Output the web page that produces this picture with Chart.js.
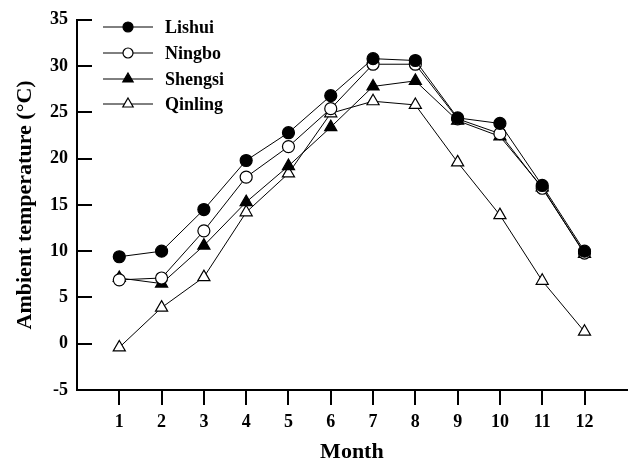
<!DOCTYPE html>
<html>
<head>
<meta charset="utf-8">
<script src="https://cdn.jsdelivr.net/npm/chart.js@4"></script>
<style>
  html, body { margin: 0; padding: 0; background: #fff; }
  #wrap { width: 635px; height: 464px; }
</style>
</head>
<body>
<div id="wrap"><canvas id="c" width="635" height="464"></canvas></div>
<script>
const months = [1, 2, 3, 4, 5, 6, 7, 8, 9, 10, 11, 12];
const lishui  = [9.4, 10.0, 14.5, 19.8, 22.8, 26.8, 30.8, 30.6, 24.4, 23.8, 17.1, 10.0];
const ningbo  = [6.9, 7.1, 12.2, 18.0, 21.3, 25.4, 30.2, 30.2, 24.3, 22.7, 16.8, 9.8];
const shengsi = [7.1, 6.5, 10.6, 15.3, 19.2, 23.4, 27.8, 28.4, 24.1, 22.4, 16.9, 9.7];
const qinling = [-0.4, 3.9, 7.2, 14.2, 18.4, 24.9, 26.2, 25.8, 19.6, 13.9, 6.8, 1.3];
const seriesNames = ['Lishui', 'Ningbo', 'Shengsi', 'Qinling'];
const yTickValues = [-5, 0, 5, 10, 15, 20, 25, 30, 35];

const FONT = "'Liberation Serif', 'Times New Roman', serif";

function pts(vals) { return months.map((m, i) => ({ x: m, y: vals[i] })); }

const styles = [
  { pointStyle: 'circle',   fill: '#000', radius: 6 },
  { pointStyle: 'circle',   fill: '#fff', radius: 6 },
  { pointStyle: 'triangle', fill: '#000', radius: 7 },
  { pointStyle: 'triangle', fill: '#fff', radius: 7 }
];
const values = [lishui, ningbo, shengsi, qinling];

const datasets = values.map((v, i) => ({
  label: seriesNames[i],
  data: pts(v),
  borderColor: '#000',
  borderWidth: 1,
  pointStyle: styles[i].pointStyle,
  pointRadius: styles[i].radius,
  pointHoverRadius: styles[i].radius,
  pointBackgroundColor: styles[i].fill,
  pointBorderColor: '#000',
  pointBorderWidth: 1.2,
  tension: 0,
  fill: false
}));

const innerYTicks = {
  id: 'innerYTicks',
  beforeDatasetsDraw(chart) {
    const y = chart.scales.y;
    const left = chart.chartArea.left;
    const ctx = chart.ctx;
    ctx.save();
    ctx.strokeStyle = '#000';
    ctx.lineWidth = 2;
    yTickValues.forEach(v => {
      const py = Math.round(y.getPixelForValue(v));
      ctx.beginPath();
      ctx.moveTo(left, py);
      ctx.lineTo(left + 15, py);
      ctx.stroke();
    });
    ctx.restore();
  }
};

const lineLegend = {
  id: 'lineLegend',
  afterDraw(chart) {
    const ctx = chart.ctx;
    const rows = [27, 53, 79, 104];
    ctx.save();
    chart.data.datasets.forEach((ds, i) => {
      const yy = rows[i];
      ctx.strokeStyle = '#000';
      ctx.lineWidth = 1;
      ctx.beginPath();
      ctx.moveTo(103, yy);
      ctx.lineTo(153, yy);
      ctx.stroke();
      ctx.fillStyle = ds.pointBackgroundColor;
      ctx.strokeStyle = '#000';
      ctx.lineWidth = 1.2;
      Chart.helpers.drawPoint(ctx, {
        pointStyle: ds.pointStyle,
        radius: ds.pointStyle === 'triangle' ? 6 : 5,
        rotation: 0,
        borderWidth: 1.2
      }, 128, yy);
      ctx.fillStyle = '#000';
      ctx.font = "bold 18px " + FONT;
      ctx.textBaseline = 'middle';
      ctx.textAlign = 'left';
      ctx.fillText(ds.label, 165, yy + 1);
    });
    ctx.restore();
  }
};

new Chart(document.getElementById('c'), {
  type: 'line',
  data: { datasets },
  options: {
    responsive: false,
    animation: false,
    events: [],
    layout: { padding: { top: 19, right: 0, bottom: 0, left: 0 } },
    plugins: { legend: { display: false }, tooltip: { enabled: false } },
    scales: {
      x: {
        type: 'linear',
        min: 0,
        max: 13,
        afterBuildTicks(scale) {
          scale.ticks = months.map(m => ({ value: m }));
        },
        afterFit(scale) { scale.height = 74; },
        ticks: {
          stepSize: 1,
          color: '#000',
          padding: 7,
          font: { family: FONT, size: 18, weight: 'bold', lineHeight: 1.2 },
          callback: v => String(v)
        },
        grid: {
          drawOnChartArea: false,
          drawTicks: true,
          tickLength: 15,
          color: '#000',
          tickColor: '#000',
          tickWidth: 2,
          lineWidth: 2
        },
        border: { display: true, color: '#000', width: 2 },
        title: {
          display: true,
          text: 'Month',
          color: '#000',
          font: { family: FONT, size: 22, weight: 'bold', lineHeight: 1 },
          padding: { top: 0, bottom: 1 }
        }
      },
      y: {
        type: 'linear',
        min: -5,
        max: 35,
        afterBuildTicks(scale) {
          scale.ticks = yTickValues.map(v => ({ value: v }));
        },
        afterFit(scale) { scale.width = 77; },
        ticks: {
          color: '#000',
          padding: 9,
          font: { family: FONT, size: 18, weight: 'bold' },
          callback: v => String(v)
        },
        grid: {
          drawOnChartArea: false,
          drawTicks: false,
          tickLength: 0
        },
        border: { display: true, color: '#000', width: 2 },
        title: {
          display: true,
          text: 'Ambient temperature (\u00B0C)',
          color: '#000',
          font: { family: FONT, size: 22, weight: 'bold', lineHeight: 1 },
          padding: { top: 14, bottom: 0 }
        }
      }
    }
  },
  plugins: [innerYTicks, lineLegend]
});
</script>
</body>
</html>
